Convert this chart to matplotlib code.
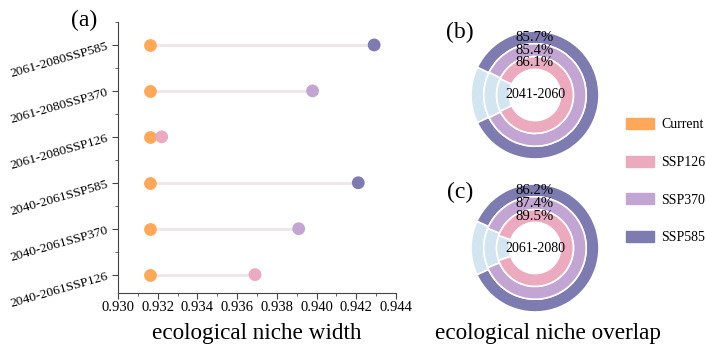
import matplotlib.pyplot as plt
from matplotlib.patches import Patch
from matplotlib.ticker import MultipleLocator

plt.rcParams['font.family'] = ['Liberation Serif', 'DejaVu Serif']

# -------------------
# Data
# -------------------
scenarios = ["2040-2061SSP126", "2040-2061SSP370", "2040-2061SSP585",
             "2061-2080SSP126", "2061-2080SSP370", "2061-2080SSP585"]
current_width = [0.9316, 0.9316, 0.9316, 0.9316, 0.9316, 0.9316]
future_width = [0.9369, 0.9391, 0.9421, 0.9322, 0.9398, 0.9429]
future_ssp = ["SSP126", "SSP370", "SSP585", "SSP126", "SSP370", "SSP585"]

# overlap, rings from outer to inner: SSP585, SSP370, SSP126
overlap_2041 = [85.7, 85.4, 86.1]
overlap_2061 = [86.2, 87.4, 89.5]
ring_ssp = ["SSP585", "SSP370", "SSP126"]

colors = {"Current": "#FFA85A", "SSP126": "#EBAABE",
          "SSP370": "#C3A5D3", "SSP585": "#7D7BAF"}
rest_color = "#D3E5F1"

W, H = 706, 347
fig = plt.figure(figsize=(W / 100, H / 100), dpi=100)

# -------------------
# (a) dumbbell plot
# -------------------
ax = fig.add_axes([118 / W, 1 - 293 / H, (396 - 118) / W, (293 - 22) / H])
ypos = list(range(len(scenarios)))
for y, c, f in zip(ypos, current_width, future_width):
    ax.plot([c, f], [y, y], color="#EEE6E8", lw=2, zorder=1)
ax.scatter(current_width, ypos, s=85, color=colors["Current"], zorder=3, lw=0)
ax.scatter(future_width, ypos, s=85, color=[colors[s] for s in future_ssp],
           zorder=3, lw=0)
ax.set_ylim(-0.4, 5.5)
ax.set_yticks(ypos)
ax.set_yticklabels(scenarios, rotation=16, fontsize=9.7, ha="right",
                   rotation_mode="anchor")
ax.yaxis.set_minor_locator(MultipleLocator(0.5))
xt = [0.930 + 0.002 * i for i in range(8)]
ax.set_xticks(xt)
ax.set_xticklabels([f"{v:.3f}" for v in xt], fontsize=10.5)
ax.xaxis.set_minor_locator(MultipleLocator(0.001))
ax.set_xlim(0.930, 0.944)
for s in ["top", "right"]:
    ax.spines[s].set_visible(False)
ax.spines["left"].set_color("#444444")
ax.spines["bottom"].set_color("#444444")
ax.tick_params(axis="both", which="major", length=4, color="#444444")
ax.tick_params(axis="both", which="minor", length=2, color="#444444")
ax.tick_params(axis="x", pad=2)
fig.text(257 / W, 1 - 334 / H, "ecological niche width", fontsize=16.7,
         ha="center", va="center")
fig.text(84 / W, 1 - 20 / H, "(a)", fontsize=17, ha="center", va="center")

# -------------------
# (b), (c) donuts
# -------------------
def donut(cx, cy, vals, period):
    r = 64
    dax = fig.add_axes([(cx - r) / W, 1 - (cy + r) / H, 2 * r / W, 2 * r / H])
    dax.set_aspect("equal")
    dax.axis("off")
    for i, (v, ssp) in enumerate(zip(vals, ring_ssp)):
        rad = 1 - 0.2 * i
        p = v / 100
        dax.pie([1 - p, p], radius=rad, startangle=180 - (1 - p) * 180,
                colors=[rest_color, colors[ssp]],
                wedgeprops=dict(width=0.2, edgecolor="white", linewidth=1.2))
        dax.text(0, rad - 0.1, f"{v}%", ha="center", va="center", fontsize=10.6)
    dax.text(0, 0, period, ha="center", va="center", fontsize=10)
    dax.set_xlim(-1, 1)
    dax.set_ylim(-1, 1)

donut(535, 95, overlap_2041, "2041-2060")
donut(535, 248, overlap_2061, "2061-2080")
fig.text(460 / W, 1 - 32 / H, "(b)", fontsize=17, ha="center", va="center")
fig.text(460 / W, 1 - 192 / H, "(c)", fontsize=17, ha="center", va="center")
fig.text(548 / W, 1 - 334 / H, "ecological niche overlap", fontsize=16.7,
         ha="center", va="center")

handles = [Patch(color=colors[k]) for k in ["Current", "SSP126", "SSP370", "SSP585"]]
fig.legend(handles, ["Current", "SSP126", "SSP370", "SSP585"],
           loc="center left", bbox_to_anchor=(626 / W, 1 - 181 / H),
           frameon=False, fontsize=10, handlelength=2.0, handleheight=0.85,
           labelspacing=1.75, handletextpad=0.55, borderpad=0, borderaxespad=0)

fig.savefig("out.png", dpi=100)
